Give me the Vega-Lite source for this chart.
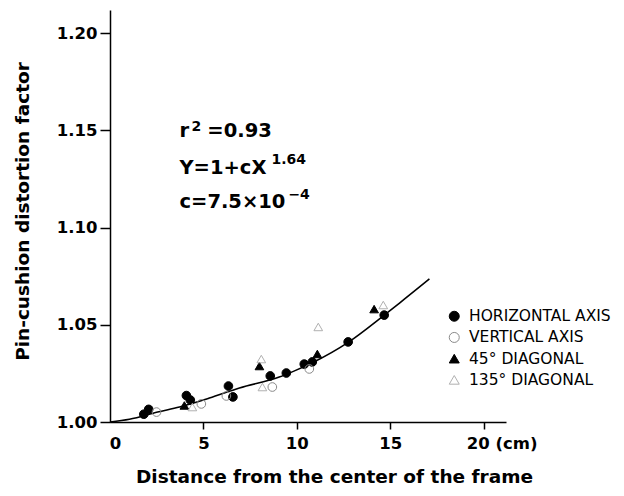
{
  "$schema": "https://vega.github.io/schema/vega-lite/v6.json",
  "width": 396,
  "height": 412,
  "autosize": {"type": "none"},
  "padding": {"left": 110, "top": 10, "right": 118, "bottom": 74},
  "background": "white",
  "config": {
    "view": {"stroke": null},
    "axis": {"grid": false, "domainColor": "black", "tickColor": "black", "labelColor": "black", "titleColor": "black"}
  },
  "datasets": {
    "points": [
      {"series": "HORIZONTAL AXIS", "x": 1.81, "y": 1.0040},
      {"series": "HORIZONTAL AXIS", "x": 2.07, "y": 1.0065},
      {"series": "HORIZONTAL AXIS", "x": 4.09, "y": 1.0136},
      {"series": "HORIZONTAL AXIS", "x": 4.30, "y": 1.0113},
      {"series": "HORIZONTAL AXIS", "x": 6.34, "y": 1.0185},
      {"series": "HORIZONTAL AXIS", "x": 6.58, "y": 1.0129},
      {"series": "HORIZONTAL AXIS", "x": 8.58, "y": 1.0237},
      {"series": "HORIZONTAL AXIS", "x": 9.44, "y": 1.0252},
      {"series": "HORIZONTAL AXIS", "x": 10.40, "y": 1.0298},
      {"series": "HORIZONTAL AXIS", "x": 10.83, "y": 1.0309},
      {"series": "HORIZONTAL AXIS", "x": 12.75, "y": 1.0412},
      {"series": "HORIZONTAL AXIS", "x": 14.68, "y": 1.0550},
      {"series": "VERTICAL AXIS", "x": 2.49, "y": 1.0051},
      {"series": "VERTICAL AXIS", "x": 4.89, "y": 1.0093},
      {"series": "VERTICAL AXIS", "x": 6.23, "y": 1.0134},
      {"series": "VERTICAL AXIS", "x": 8.69, "y": 1.0180},
      {"series": "VERTICAL AXIS", "x": 10.67, "y": 1.0273},
      {"series": "45° DIAGONAL", "x": 3.98, "y": 1.0085},
      {"series": "45° DIAGONAL", "x": 8.00, "y": 1.0288},
      {"series": "45° DIAGONAL", "x": 11.10, "y": 1.0350},
      {"series": "45° DIAGONAL", "x": 14.14, "y": 1.0581},
      {"series": "135° DIAGONAL", "x": 4.41, "y": 1.0077},
      {"series": "135° DIAGONAL", "x": 8.10, "y": 1.0324},
      {"series": "135° DIAGONAL", "x": 8.16, "y": 1.0180},
      {"series": "135° DIAGONAL", "x": 11.15, "y": 1.0489},
      {"series": "135° DIAGONAL", "x": 14.63, "y": 1.0602}
    ],
    "curve": [
      {"x": 0, "y": 1.0},
      {"x": 1.04, "y": 1.0014},
      {"x": 2.55, "y": 1.0051},
      {"x": 3.72, "y": 1.0077},
      {"x": 5.32, "y": 1.0123},
      {"x": 6.93, "y": 1.0175},
      {"x": 9.06, "y": 1.0231},
      {"x": 9.97, "y": 1.0267},
      {"x": 10.83, "y": 1.0305},
      {"x": 12.75, "y": 1.0410},
      {"x": 14.68, "y": 1.0550},
      {"x": 15.5, "y": 1.0612},
      {"x": 17.1, "y": 1.0736}
    ],
    "one": [{}]
  },
  "layer": [
    {
      "data": {"name": "curve"},
      "mark": {"type": "line", "color": "black", "strokeWidth": 1.6, "interpolate": "monotone"},
      "encoding": {
        "x": {
          "field": "x", "type": "quantitative",
          "scale": {"domain": [0, 21.2], "nice": false, "zero": false},
          "axis": {
            "title": "Distance from the center of the frame",
            "values": [0, 5, 10, 15, 20],
            "format": "d",
            "labelExpr": "datum.value == 20 ? '20 (cm)' : datum.label",
            "tickSize": 7, "tickWidth": 1.5, "domainWidth": 1.5,
            "labelFont": "DejaVu Sans", "labelFontWeight": "bold", "labelFontSize": 16.5,
            "labelPadding": 6, "labelFlush": false, "labelOverlap": false,
            "labelOffset": {"condition": [{"test": "datum.value == 0", "value": 5}, {"test": "datum.value == 20", "value": 18}], "value": 0},
            "tickOpacity": {"condition": {"test": "datum.value == 0", "value": 0}, "value": 1},
            "titleFont": "DejaVu Sans", "titleFontWeight": "bold", "titleFontSize": 18.5,
            "titleX": 224, "titleY": 60, "titleBaseline": "alphabetic", "titleAlign": "center"
          }
        },
        "y": {
          "field": "y", "type": "quantitative",
          "scale": {"domain": [1.0, 1.212], "nice": false, "zero": false},
          "axis": {
            "title": "Pin-cushion distortion factor",
            "values": [1.0, 1.05, 1.1, 1.15, 1.2],
            "format": ".2f",
            "tickSize": 10, "tickWidth": 1.5, "domainWidth": 1.5,
            "labelFont": "DejaVu Sans", "labelFontWeight": "bold", "labelFontSize": 16.5,
            "labelPadding": 3,
            "titleFont": "DejaVu Sans", "titleFontWeight": "bold", "titleFontSize": 18.5,
            "titleAngle": -90, "titleX": -82, "titleY": 201, "titleBaseline": "alphabetic", "titleAlign": "center"
          }
        }
      }
    },
    {
      "data": {"name": "points"},
      "mark": {"type": "point", "opacity": 1, "size": 75, "strokeWidth": 1},
      "encoding": {
        "x": {"field": "x", "type": "quantitative", "scale": {"domain": [0, 21.2], "nice": false, "zero": false}},
        "y": {"field": "y", "type": "quantitative", "scale": {"domain": [1.0, 1.212], "nice": false, "zero": false}},
        "shape": {
          "field": "series", "type": "nominal",
          "scale": {"domain": ["HORIZONTAL AXIS", "VERTICAL AXIS", "45° DIAGONAL", "135° DIAGONAL"], "range": ["circle", "circle", "triangle-up", "triangle-up"]},
          "legend": {
            "orient": "none", "legendX": 336.5, "legendY": 298.5, "title": null,
            "labelFont": "DejaVu Sans", "labelFontSize": 15.5, "labelColor": "black",
            "symbolSize": 100, "rowPadding": 4.2, "labelOffset": 7, "padding": 0, "symbolStrokeWidth": 1
          }
        },
        "fill": {
          "field": "series", "type": "nominal",
          "scale": {"domain": ["HORIZONTAL AXIS", "VERTICAL AXIS", "45° DIAGONAL", "135° DIAGONAL"], "range": ["black", "transparent", "black", "transparent"]}
        },
        "stroke": {
          "field": "series", "type": "nominal",
          "scale": {"domain": ["HORIZONTAL AXIS", "VERTICAL AXIS", "45° DIAGONAL", "135° DIAGONAL"], "range": ["black", "#8a8a8a", "black", "#b0b0b0"]}
        }
      }
    },
    {
      "data": {"name": "one"},
      "mark": {"type": "text", "text": "r", "align": "left", "baseline": "alphabetic", "font": "DejaVu Sans", "fontWeight": "bold", "fontSize": 19.5, "color": "black"},
      "encoding": {"x": {"datum": 3.72, "type": "quantitative"}, "y": {"datum": 1.1466, "type": "quantitative"}}
    },
    {
      "data": {"name": "one"},
      "mark": {"type": "text", "text": "2", "align": "left", "baseline": "alphabetic", "font": "DejaVu Sans", "fontWeight": "bold", "fontSize": 14, "color": "black"},
      "encoding": {"x": {"datum": 4.36, "type": "quantitative"}, "y": {"datum": 1.1495, "type": "quantitative"}}
    },
    {
      "data": {"name": "one"},
      "mark": {"type": "text", "text": "=0.93", "align": "left", "baseline": "alphabetic", "font": "DejaVu Sans", "fontWeight": "bold", "fontSize": 19.5, "color": "black"},
      "encoding": {"x": {"datum": 5.21, "type": "quantitative"}, "y": {"datum": 1.1466, "type": "quantitative"}}
    },
    {
      "data": {"name": "one"},
      "mark": {"type": "text", "text": "Y=1+cX", "align": "left", "baseline": "alphabetic", "font": "DejaVu Sans", "fontWeight": "bold", "fontSize": 19.5, "color": "black"},
      "encoding": {"x": {"datum": 3.72, "type": "quantitative"}, "y": {"datum": 1.1276, "type": "quantitative"}}
    },
    {
      "data": {"name": "one"},
      "mark": {"type": "text", "text": "1.64", "align": "left", "baseline": "alphabetic", "font": "DejaVu Sans", "fontWeight": "bold", "fontSize": 14, "color": "black"},
      "encoding": {"x": {"datum": 8.64, "type": "quantitative"}, "y": {"datum": 1.1327, "type": "quantitative"}}
    },
    {
      "data": {"name": "one"},
      "mark": {"type": "text", "text": "c=7.5×10", "align": "left", "baseline": "alphabetic", "font": "DejaVu Sans", "fontWeight": "bold", "fontSize": 19.5, "color": "black"},
      "encoding": {"x": {"datum": 3.72, "type": "quantitative"}, "y": {"datum": 1.1101, "type": "quantitative"}}
    },
    {
      "data": {"name": "one"},
      "mark": {"type": "text", "text": "−4", "align": "left", "baseline": "alphabetic", "font": "DejaVu Sans", "fontWeight": "bold", "fontSize": 14, "color": "black"},
      "encoding": {"x": {"datum": 9.55, "type": "quantitative"}, "y": {"datum": 1.1147, "type": "quantitative"}}
    }
  ]
}
